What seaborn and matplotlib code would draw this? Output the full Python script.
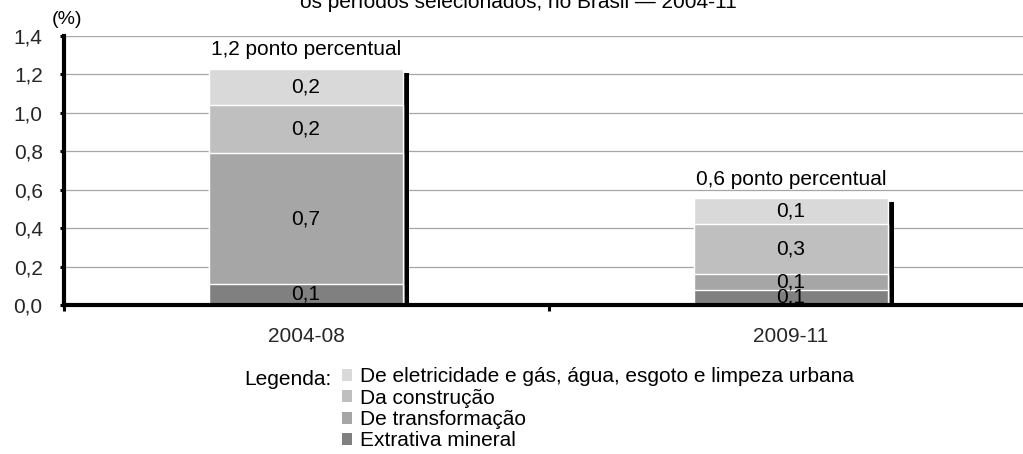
import numpy as np
import pandas as pd
import matplotlib
matplotlib.use("Agg")
import matplotlib.pyplot as plt
import seaborn as sns
from matplotlib.transforms import offset_copy
from matplotlib.patches import Patch

# ---------------- data ----------------
periodos = ["2004-08", "2009-11"]
series = [
    "Extrativa mineral",
    "De transformação",
    "Da construção",
    "De eletricidade e gás, água, esgoto e limpeza urbana",
]
extrativa = [0.11, 0.08]
transformacao = [0.68, 0.08]
construcao = [0.25, 0.26]
eletricidade = [0.19, 0.135]

rotulos_extrativa = ["0,1", "0,1"]
rotulos_transformacao = ["0,7", "0,1"]
rotulos_construcao = ["0,2", "0,3"]
rotulos_eletricidade = ["0,2", "0,1"]
rotulos_totais = ["1,2 ponto percentual", "0,6 ponto percentual"]

cores = ["#808080", "#a6a6a6", "#bfbfbf", "#d9d9d9"]
yticks = [0.0, 0.2, 0.4, 0.6, 0.8, 1.0, 1.2, 1.4]
ytick_labels = ["0,0", "0,2", "0,4", "0,6", "0,8", "1,0", "1,2", "1,4"]
titulo = "os períodos selecionados, no Brasil — 2004-11"

# ---------------- styling ----------------
sns.set_theme(style="white")
plt.rcParams["font.family"] = ["Liberation Sans", "DejaVu Sans"]
plt.rcParams["text.color"] = "black"
FS = 15

W, H = 1023, 454
fig = plt.figure(figsize=(W / 100, H / 100), dpi=100)
ax = fig.add_axes([63.5 / W, (H - 305) / H, 970 / W, (305 - 36) / H])

valores = [extrativa, transformacao, construcao, eletricidade]
rotulos = [rotulos_extrativa, rotulos_transformacao, rotulos_construcao, rotulos_eletricidade]
cum = np.cumsum(np.array(valores), axis=0)
totais = cum[-1]

df = pd.DataFrame({"Período": periodos, "total": totais})
for i in range(len(series)):
    df[f"cum{i}"] = cum[i]

# shadow bars (offset in pixels)
sombra = offset_copy(ax.transData, fig=fig, x=6, y=-4, units="dots")
sns.barplot(data=df, x="Período", y="total", color="black", saturation=1,
            width=0.4, linewidth=0, errorbar=None, ax=ax, zorder=1.5,
            transform=sombra)

# stacked bars (layered cumulative sums)
for i in reversed(range(len(series))):
    sns.barplot(data=df, x="Período", y=f"cum{i}", color=cores[i], saturation=1,
                width=0.4, edgecolor="white", linewidth=1, errorbar=None, ax=ax,
                zorder=2)

# value labels
for i in range(len(series)):
    for j in range(len(periodos)):
        base = cum[i - 1][j] if i > 0 else 0.0
        ax.text(j, base + valores[i][j] / 2, rotulos[i][j], ha="center",
                va="center", fontsize=FS, color="black", zorder=5)

for j in range(len(periodos)):
    ax.annotate(rotulos_totais[j], xy=(j, totais[j]), xytext=(0, 7),
                textcoords="offset points", ha="center", va="bottom",
                fontsize=FS, color="black")

# axes
ax.set_xlim(-0.5, 1.5)
ax.set_ylim(0, 1.4)
ax.set_xlabel("")
ax.set_ylabel("")
ax.set_yticks(yticks, ytick_labels)
ax.set_xticks(range(len(periodos)), periodos)
ax.set_xticks([-0.5, 0.5, 1.5], minor=True)
ax.tick_params(axis="x", which="major", length=0, pad=16, labelsize=FS)
ax.tick_params(axis="x", which="minor", length=4.5, width=2.2, direction="out",
               color="black", bottom=True)
ax.tick_params(axis="y", which="major", length=3, width=2.2, direction="out",
               color="black", pad=12, labelsize=FS, left=True)
for s in ["top", "right"]:
    ax.spines[s].set_visible(False)
for s in ["left", "bottom"]:
    ax.spines[s].set_linewidth(3)
    ax.spines[s].set_color("black")
ax.set_axisbelow(True)
ax.yaxis.grid(True, color="#a6a6a6", linewidth=0.9)
ax.xaxis.grid(False)

# texts outside axes
fig.text(67 / W, 1 - 19 / H, "(%)", ha="center", va="center", fontsize=14)
fig.text(300 / W, 1 - 8 / H, titulo, ha="left", va="baseline", fontsize=FS)
fig.text(244 / W, 1 - 385 / H, "Legenda:", ha="left", va="baseline", fontsize=FS)

handles = [Patch(facecolor=c, edgecolor="none") for c in reversed(cores)]
fig.legend(handles, list(reversed(series)), loc="upper left",
           bbox_to_anchor=(342 / W, 1 - 367 / H), frameon=False, borderpad=0,
           borderaxespad=0, handlelength=0.5, handleheight=0.5,
           handletextpad=0.35, labelspacing=0.12, fontsize=FS)

fig.savefig("out.png", dpi=100)
